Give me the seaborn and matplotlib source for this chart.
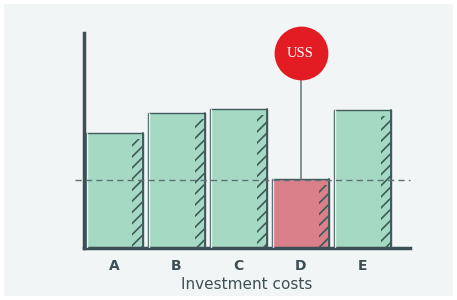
import matplotlib
matplotlib.use("Agg")
import matplotlib.pyplot as plt
import seaborn as sns
import pandas as pd
from matplotlib.patches import Rectangle

# Data
categories = ["A", "B", "C", "D", "E"]
costs = [115, 135, 139, 69, 138]
highlight = "D"
reference_level = 68
marker_label = "USS"
marker_value = 195

GREEN = "#A6D9C3"
RED = "#D9808B"
EDGE = "#3E5A5B"
TEXT = "#3D4F55"
BG = "#F2F5F6"

df = pd.DataFrame({"category": categories, "cost": costs})
palette = {c: (RED if c == highlight else GREEN) for c in categories}

sns.set_style("white")
plt.rcParams["hatch.linewidth"] = 1.2

fig = plt.figure(figsize=(4.57, 3.00), dpi=100, facecolor="white")
fig.patches.append(Rectangle((0.009, 0.013), 0.982, 0.974, transform=fig.transFigure,
                             facecolor=BG, edgecolor="none", zorder=-10))
ax = fig.add_axes([0.1838, 0.1733, 0.7132, 0.7167])
ax.set_facecolor(BG)

bar_w = 0.92
sns.barplot(data=df, x="category", y="cost", hue="category", palette=palette,
            width=bar_w, edgecolor=EDGE, linewidth=1.0, legend=False, ax=ax,
            saturation=1)

# hatched shading strip on the right side of each bar
strip_w = 0.16
xs = list(range(len(categories)))
ax.bar([x + bar_w / 2 - strip_w / 2 - 0.01 for x in xs], [c - 6 for c in costs],
       width=strip_w, color="none", edgecolor=EDGE, linewidth=0, hatch="///", zorder=3)
# light highlight on the left edge, dark line on the right edge
for x, c in zip(xs, costs):
    ax.plot([x - bar_w / 2 + 0.02] * 2, [0, c], color="white", lw=1.0, alpha=0.8, zorder=4)
    ax.plot([x + bar_w / 2] * 2, [0, c], color=EDGE, lw=1.3, zorder=4)

# reference dashed line
ax.plot([-0.64, 4.76], [reference_level, reference_level], ls=(0, (4.5, 3)),
        color="#5F7275", lw=1.0, clip_on=False, zorder=5)

# marker over highlighted bar
hi = categories.index(highlight)
ax.plot([hi, hi], [costs[hi], marker_value - 27], color="#6F7F82", lw=1.2, zorder=5)
ax.scatter([hi], [marker_value], s=1500, color="#E31B23", clip_on=False, zorder=6,
           linewidths=0)
ax.text(hi, marker_value, marker_label, color="white", ha="center", va="center",
        fontsize=10.5, family="Liberation Serif", zorder=7)

ax.set_xlim(-0.49, 4.76)
ax.set_ylim(0, 215)
ax.set_yticks([])
ax.tick_params(axis="x", length=0, pad=8)
for lbl in ax.get_xticklabels():
    lbl.set_fontweight("bold")
    lbl.set_color(TEXT)
    lbl.set_fontsize(10)
ax.set_xlabel("Investment costs", color=TEXT, fontsize=11, fontweight="medium",
              labelpad=3)
ax.set_ylabel("")

sns.despine(ax=ax)
for side in ["left", "bottom"]:
    ax.spines[side].set_linewidth(2.5)
    ax.spines[side].set_color("#3B4F54")

fig.savefig("out.png", dpi=100, facecolor="white")
